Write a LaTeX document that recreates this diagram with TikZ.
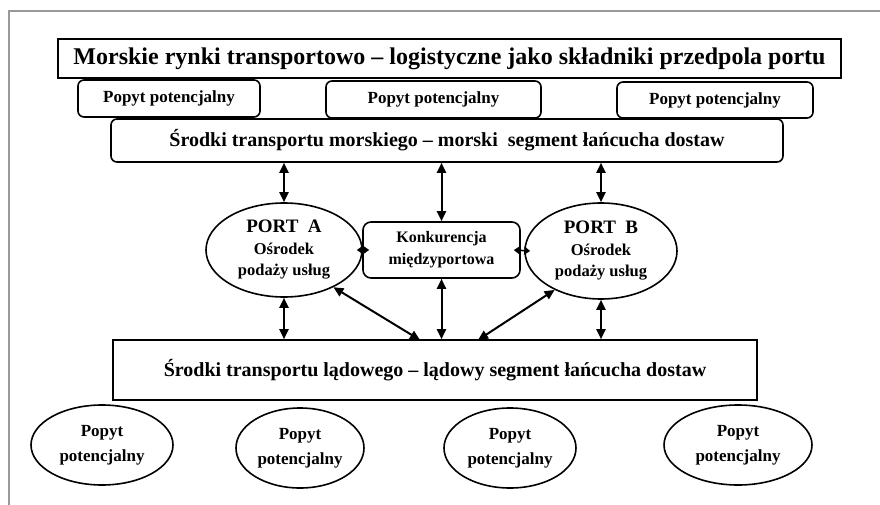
\documentclass[tikz,border=0pt]{standalone}
\usepackage{fontspec}
\setmainfont{Liberation Serif}
\usetikzlibrary{arrows.meta,shapes.geometric,calc}
\begin{document}
\begin{tikzpicture}[x=1pt,y=-1pt,
  every node/.style={align=center, inner sep=0pt},
  rectbox/.style={draw, line width=1.8pt},
  rbox/.style={draw, line width=1.6pt, rounded corners=6pt},
  oval/.style={draw, ellipse, line width=1.6pt},
  dbl/.style={line width=2pt, {Triangle[length=10pt,width=9pt]}-{Triangle[length=10pt,width=9pt]}},
  small/.style={line width=1.5pt, {Triangle[length=6pt,width=8pt]}-{Triangle[length=6pt,width=8pt]}},
  ftitle/.style={font=\fontsize{24}{26}\selectfont\bfseries},
  fbar/.style={font=\fontsize{20}{22}\selectfont\bfseries},
  fpop/.style={font=\fontsize{17}{20}\selectfont\bfseries},
  fport/.style={font=\fontsize{16.5}{21.5}\selectfont\bfseries},
  fkon/.style={font=\fontsize{16}{22}\selectfont\bfseries},
  fbot/.style={font=\fontsize{17}{25}\selectfont\bfseries},
]
\useasboundingbox (0,0) rectangle (880,505);
\fill[white] (0,0) rectangle (880,505);
% frame
\draw[gray!80, line width=1.2pt] (9,505) -- (9,11) -- (880,11);

% title
\node[rectbox, ftitle, minimum width=783pt, minimum height=39pt] (title) at (449.5,58.5)
  {Morskie rynki transportowo -- logistyczne jako składniki przedpola portu};

% top demand boxes
\node[rbox, fpop, minimum width=182pt, minimum height=37pt] (p1) at (169,98.5) {Popyt potencjalny};
\node[rbox, fpop, minimum width=215pt, minimum height=37pt] (p2) at (433.5,99.5) {Popyt potencjalny};
\node[rbox, fpop, minimum width=196pt, minimum height=36pt] (p3) at (715,100) {Popyt potencjalny};

% sea box
\node[rbox, fbar, minimum width=672pt, minimum height=43pt] (sea) at (447,140.5)
  {Środki transportu morskiego -- morski\ \ segment łańcucha dostaw};

% ports
\node[oval, fport, minimum width=156pt, minimum height=94pt] (pa) at (284,250)
  {{\fontsize{19}{21}\selectfont PORT\ \ A}\\Ośrodek\\podaży usług};
\node[rbox, fkon, rounded corners=8pt, minimum width=157pt, minimum height=56pt] (kon) at (441.5,250)
  {\raisebox{-4pt}{Konkurencja}\\\raisebox{-4pt}{międzyportowa}};
\node[oval, fport, minimum width=152pt, minimum height=96pt] (pb) at (601,251)
  {{\fontsize{19}{21}\selectfont PORT\ \ B}\\Ośrodek\\podaży usług};

% land box
\node[rectbox, fbar, line width=1.6pt, minimum width=644pt, minimum height=60pt] (land) at (435,370)
  {Środki transportu lądowego -- lądowy segment łańcucha dostaw};

% bottom demand ellipses
\node[oval, fbot, minimum width=142pt, minimum height=80pt] (e1) at (102,445) {Popyt\\potencjalny};
\node[oval, fbot, minimum width=128pt, minimum height=80pt] (e2) at (300,448) {Popyt\\potencjalny};
\node[oval, fbot, minimum width=132pt, minimum height=80pt] (e3) at (510,448) {Popyt\\potencjalny};
\node[oval, fbot, minimum width=148pt, minimum height=80pt] (e4) at (738,445) {Popyt\\potencjalny};

% connectors top
\draw[dbl] (pa.north) -- (pa.north |- sea.south);
\draw[dbl] (kon.north) -- (kon.north |- sea.south);
\draw[dbl] (pb.north) -- (pb.north |- sea.south);
% port - competition
\draw[small] ([xshift=-6pt]pa.east) -- ([xshift=7pt]kon.west);
\draw[small] ([xshift=6pt]pb.west) -- ([xshift=-7pt]kon.east);
% connectors bottom
\coordinate (lA) at (420,340);
\coordinate (lB) at (478,340);
\draw[dbl] (pa.south) -- (pa.south |- land.north);
\draw[dbl] (pb.south) -- (pb.south |- land.north);
\draw[dbl] (kon.south) -- (kon.south |- land.north);
\draw[dbl] (pa.-37) -- (lA);
\draw[dbl] (pb.-140) -- (lB);
\end{tikzpicture}
\end{document}
